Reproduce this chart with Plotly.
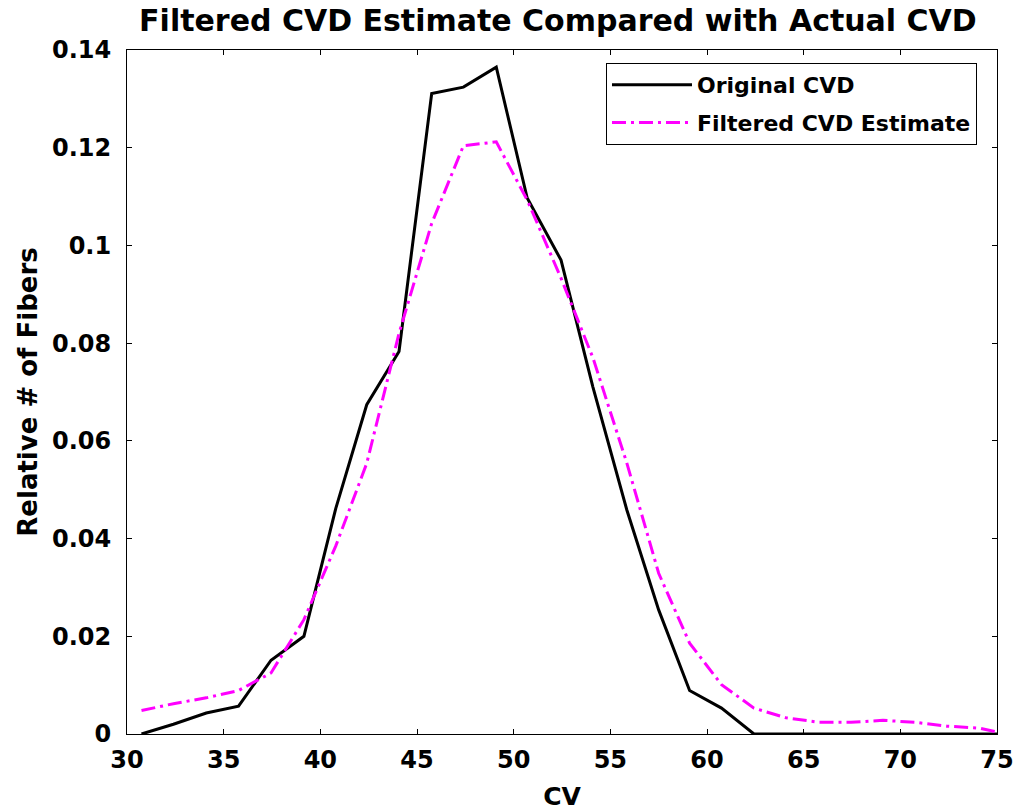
import plotly.graph_objects as go

# Data
cv = [30.75, 32.4, 34.1, 35.77, 37.45, 39.15, 40.8, 42.4, 44.07, 45.76, 47.4, 49.1,
      50.7, 52.45, 54.1, 55.85, 57.5, 59.1, 60.75, 62.43, 64.1, 65.8, 67.45, 69.1,
      70.75, 72.4, 74.1, 75.0]
original_cvd = [0.0, 0.002, 0.0043, 0.0057, 0.0151, 0.020, 0.0462, 0.0674, 0.0783,
                0.1311, 0.1324, 0.1365, 0.1097, 0.0970, 0.0710, 0.0459, 0.0254, 0.0089,
                0.0053, 0.0, 0.0, 0.0, 0.0, 0.0, 0.0, 0.0, 0.0, 0.0]
filtered_cvd = [0.0048, 0.0062, 0.0074, 0.0089, 0.0125, 0.0234, 0.0385, 0.0554, 0.0820,
                0.1045, 0.1204, 0.1212, 0.1093, 0.0933, 0.0770, 0.0555, 0.0329, 0.0186,
                0.0101, 0.0053, 0.0033, 0.0024, 0.0024, 0.0028, 0.0024, 0.0016, 0.0012,
                0.0004]

x_ticks = [30, 35, 40, 45, 50, 55, 60, 65, 70, 75]
y_ticks = [0, 0.02, 0.04, 0.06, 0.08, 0.1, 0.12, 0.14]
y_tick_text = ["0", "0.02", "0.04", "0.06", "0.08", "0.1", "0.12", "0.14"]

FONT = "DejaVu Sans, Liberation Sans, Arial, sans-serif"

fig = go.Figure()
fig.add_trace(go.Scatter(
    x=cv, y=original_cvd, mode="lines", name="Original CVD", legendgroup="a",
    line=dict(color="black", width=3),
))
fig.add_trace(go.Scatter(
    x=cv, y=filtered_cvd, mode="lines", name="Filtered CVD Estimate", legendgroup="b",
    line=dict(color="#ff00ff", width=3, dash="14px,5px,3px,5px"),
))

axis_common = dict(
    showline=True, linecolor="black", linewidth=1, mirror="ticks",
    ticks="inside", ticklen=5, tickcolor="black", tickwidth=1,
    showgrid=False, zeroline=False, automargin=False,
    tickfont=dict(family=FONT, size=24, color="black", weight="bold"),
)

fig.update_layout(
    width=1016, height=812,
    paper_bgcolor="white", plot_bgcolor="white",
    margin=dict(l=127, r=19, t=50, b=78),
    title=dict(
        text="Filtered CVD Estimate Compared with Actual CVD",
        x=(127 + 997) / 2 / 1016 - 0.004, xanchor="center", y=1 - 20 / 812, yanchor="middle",
        font=dict(family=FONT, size=30, color="black", weight="bold"),
    ),
    xaxis=dict(
        range=[30, 75], tickvals=x_ticks, ticktext=[str(v) for v in x_ticks],
        title=dict(text="CV", standoff=14,
                   font=dict(family=FONT, size=25, color="black", weight="bold")),
        ticklabelstandoff=4,
        **axis_common,
    ),
    yaxis=dict(
        range=[0, 0.14], tickvals=y_ticks, ticktext=y_tick_text,
        title=dict(text="Relative # of Fibers", standoff=6,
                   font=dict(family=FONT, size=26, color="black", weight="bold")),
        ticklabelstandoff=10,
        **axis_common,
    ),
    legend=dict(
        x=0.977, xanchor="right", y=0.981, yanchor="top",
        bgcolor="white", bordercolor="black", borderwidth=1,
        font=dict(family=FONT, size=22, color="black", weight="bold"),
        itemwidth=80, tracegroupgap=6,
    ),
    showlegend=True,
)

fig.write_html("out.html")
